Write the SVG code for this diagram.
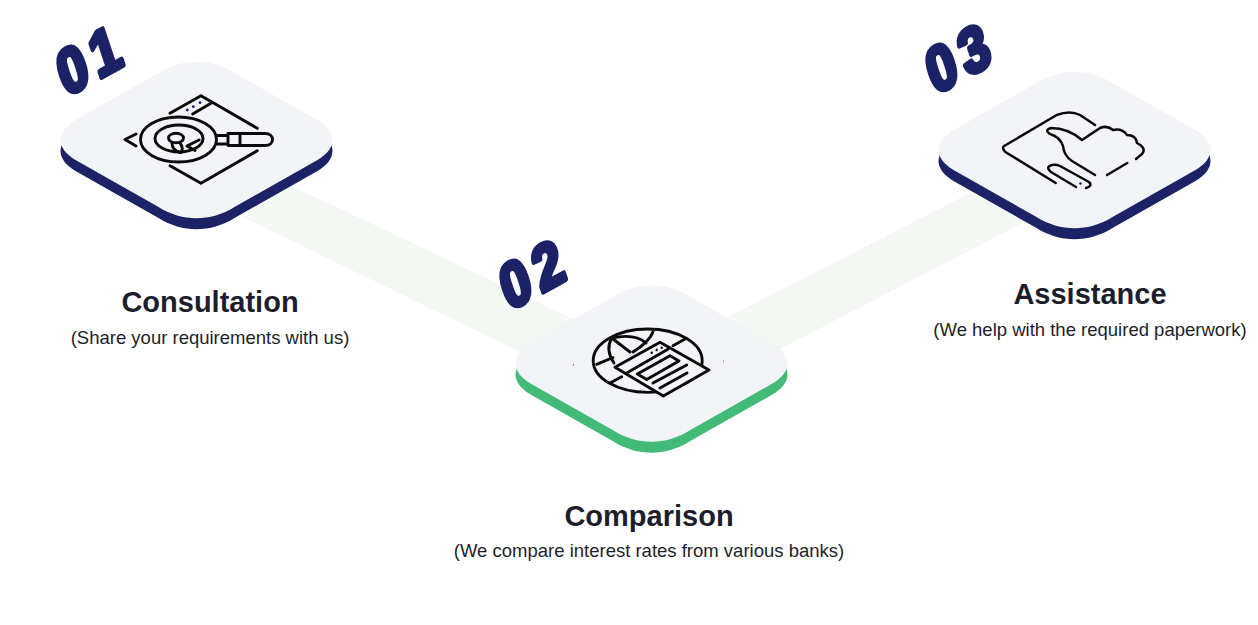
<svg xmlns="http://www.w3.org/2000/svg" width="1258" height="625" viewBox="0 0 1258 625">
<style>
.title{font:bold 29px "Liberation Sans",Arial,sans-serif;fill:#1c1f2b;text-anchor:middle}
.sub{font:18.5px "Liberation Sans",Arial,sans-serif;fill:#1c1f2b;text-anchor:middle}
.num{font:bold 56px "Liberation Sans",Arial,sans-serif;letter-spacing:7px;fill:#1b2266;stroke:#1b2266;stroke-width:4.500;stroke-linejoin:round}
.face{fill:#f3f4f8}
.ic{fill:none;stroke:#0b0b0b;stroke-width:2.900;stroke-linecap:round;stroke-linejoin:round}
.ic3{fill:none;stroke:#0b0b0b;stroke-width:2.500;stroke-linecap:round;stroke-linejoin:round}
.band{fill:#f3f8f2}
</style>
<defs>
<path id="plate" d="M-38,-67C-14,-82 14,-82 38,-67L121,-20C141,-8 141,8 121,20L38,67C14,82 -14,82 -38,67L-121,20C-141,8 -141,-8 -121,-20Z"/>
</defs>
<g id="connectors">
<polygon class="band" points="290,185 590,327 530,357 243,217"/>
<polygon class="band" points="728,317 970,193 1030,219 782,348 700,360"/>
</g>
<g id="node-1">
<use href="#plate" x="196.5" y="151" fill="#1b2266"/>
<use href="#plate" x="196.5" y="140" class="face"/>
<g class="ic">
<path d="M170,113.300L201,95.700L257.300,128.300M192.700,114L211,103.300M170,165.700L201,183.300L257.300,150.700M136,134L125,139.500L136,146"/>
<ellipse cx="178.500" cy="139.500" rx="38" ry="22.500"/>
<ellipse cx="179" cy="138.500" rx="24" ry="13.500"/>
<ellipse cx="176" cy="138" rx="7.500" ry="4.800"/>
<path d="M172,143Q172,150 180,152.500M180,143Q184,148 181,152.500M187,146L199,140M187,146L195,150.500M217,135.500H228M217,144H228M228,133.500H240V145.500H228ZM240,133.500H265C275,133.500 275,145.500 265,145.500H240"/>
</g>
<g fill="#1b2266"><circle cx="187.300" cy="110" r="1.400"/><circle cx="193.300" cy="106.700" r="1.400"/><circle cx="200" cy="102.700" r="1.400"/></g>
<text class="num" transform="matrix(0.85,-0.47,0.35,1.05,66,97)">01</text>
<text class="title" x="210" y="312">Consultation</text>
<text class="sub" x="210" y="344">(Share your requirements with us)</text>
</g>
<g id="node-2">
<use href="#plate" x="651.5" y="374.500" fill="#43bb78"/>
<use href="#plate" x="651.5" y="363.500" class="face"/>
<g class="ic">
<ellipse cx="647.700" cy="360.700" rx="54.500" ry="31.700"/>
<path d="M611.700,338Q605,350 614,363M611.700,338L630,352M653,331.700Q650,341 633,352M596.700,364.300L613,357.500M611.700,338Q635,333 646,343M673,345.700L685,339M610,383L621.700,376.700"/>
<path d="M615,367.300L660,342.300L709,370L663.300,396Z" fill="#f3f4f8"/>
<path d="M626.700,373L668.300,349M637.300,374L670,355.700L679,361L646.700,379.500ZM653,383L686.700,365M660,388L687,373"/>
</g>
<g fill="#0b0b0b"><circle cx="651.700" cy="352.700" r="1.200"/><circle cx="656.700" cy="350" r="1.200"/><circle cx="661.700" cy="347.700" r="1.200"/></g>
<rect x="573" y="364" width="1" height="1.500" fill="#777"/><rect x="723" y="360" width="1" height="3" fill="#bbb"/>
<text class="num" transform="matrix(0.85,-0.47,0.35,1.05,509,311)">02</text>
<text class="title" x="649" y="526">Comparison</text>
<text class="sub" x="649" y="557">(We compare interest rates from various banks)</text>
</g>
<g id="node-3">
<use href="#plate" x="1074.5" y="161" fill="#1b2266"/>
<use href="#plate" x="1074.5" y="150" class="face"/>
<g class="ic3">
<path d="M1055.700,183L1005,151.700Q1001,147 1005,145.500L1056.700,115Q1070,110 1080,115L1095,125"/>
<path d="M1095,175L1072,161Q1064,156 1063,146Q1060,137 1050,134Q1044,130 1051,128Q1068,128 1082,140L1100,128Q1107,125 1113,130Q1122,128 1127,135Q1136,135 1137,143Q1147,148 1142,154L1136,159"/>
<path d="M1107,175L1127.300,163"/>
<path d="M1076,187L1051,172Q1045,167 1052,165Q1056,164 1060,166L1089,182Q1093,186 1086,188"/>
</g>
<circle cx="1080.500" cy="183.500" r="1.300" fill="#1b2266"/>
<text class="num" transform="matrix(0.85,-0.47,0.35,1.05,935,95)">03</text>
<text class="title" x="1090" y="304">Assistance</text>
<text class="sub" x="1090" y="336">(We help with the required paperwork)</text>
</g>
</svg>
